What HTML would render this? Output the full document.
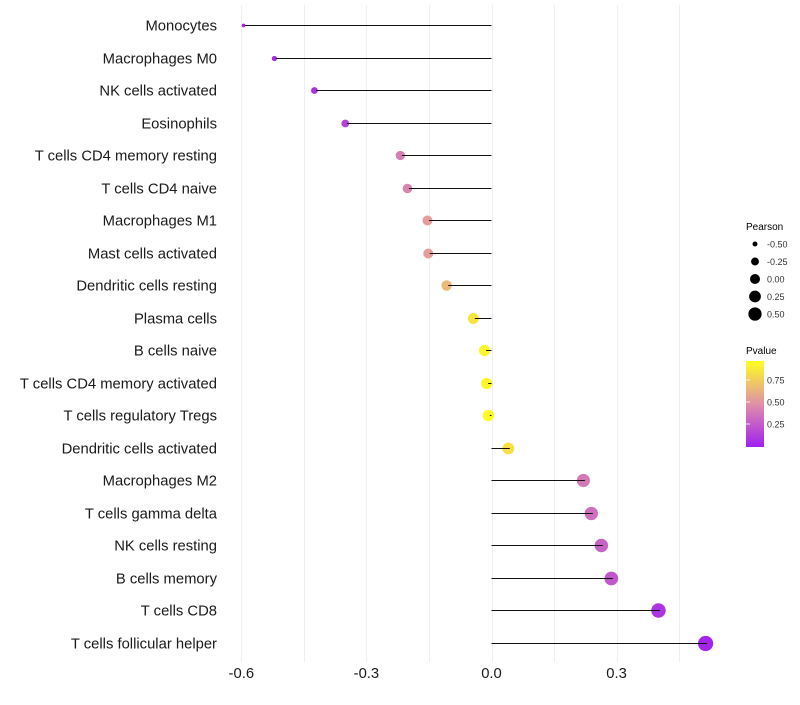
<!DOCTYPE html>
<html><head><meta charset="utf-8"><style>
body{margin:0;background:#fff;font-family:"Liberation Sans",sans-serif;}
svg text{font-family:"Liberation Sans",sans-serif;}
</style></head><body>
<svg id="chart" width="800" height="700" xmlns="http://www.w3.org/2000/svg">
<g id="grid"></g><g id="ylabels"></g><g id="marks"></g><g id="xlabels"></g>
<g id="legend">
<text x="746" y="230" font-size="10">Pearson</text>
<g id="sizeleg"></g>
<text x="746" y="354" font-size="10">Pvalue</text>
<defs><linearGradient id="pg" x1="0" y1="1" x2="0" y2="0">
<stop offset="0" stop-color="#A020F0"/><stop offset="0.5" stop-color="#E090A8"/><stop offset="1" stop-color="#FFFF20"/></linearGradient></defs>
<rect x="746" y="361" width="18" height="86" fill="url(#pg)"/>
<g id="colleg"></g>
</g>
</svg>
<script>
const cells=["Monocytes","Macrophages M0","NK cells activated","Eosinophils","T cells CD4 memory resting","T cells CD4 naive","Macrophages M1","Mast cells activated","Dendritic cells resting","Plasma cells","B cells naive","T cells CD4 memory activated","T cells regulatory  Tregs ","Dendritic cells activated","Macrophages M2","T cells gamma delta","NK cells resting","B cells memory","T cells CD8","T cells follicular helper"];
const pearson=[-0.591,-0.517,-0.421,-0.347,-0.215,-0.198,-0.150,-0.148,-0.104,-0.040,-0.013,-0.008,-0.004,0.044,0.224,0.243,0.267,0.291,0.404,0.517];
const pvalue=[0.02,0.05,0.08,0.15,0.42,0.45,0.56,0.56,0.68,0.88,0.95,0.96,0.99,0.86,0.40,0.35,0.30,0.25,0.09,0.02];
const xticks=[-0.6,-0.3,0.0,0.3];
const xtickLabels=["-0.6","-0.3","0.0","0.3"];
const sizeLegVals=[-0.5,-0.25,0,0.25,0.5];
const sizeLegLabels=["-0.50","-0.25","0.00","0.25","0.50"];
const colLegVals=[0.25,0.5,0.75];
const colLegLabels=["0.25","0.50","0.75"];

const NS="http://www.w3.org/2000/svg";
const X=v=>491.5+v*417;
const Y=i=>Math.round(25+i*32.5)+0.5;
const R=v=>7*Math.sqrt(Math.max(0.02,v+0.66));
function hex(c){return [parseInt(c.slice(1,3),16),parseInt(c.slice(3,5),16),parseInt(c.slice(5,7),16)];}
const stops=[hex("#A020F0"),hex("#E090A8"),hex("#FFFF20")];
function col(p){let t=Math.max(0,Math.min(1,p));let a,b,f;if(t<0.5){a=stops[0];b=stops[1];f=t/0.5;}else{a=stops[1];b=stops[2];f=(t-0.5)/0.5;}
return "rgb("+a.map((x,k)=>Math.round(x+(b[k]-x)*f)).join(",")+")";}
function mk(tag,attrs,parent){const e=document.createElementNS(NS,tag);for(const k in attrs)e.setAttribute(k,attrs[k]);document.getElementById(parent).appendChild(e);return e;}
for(let v=-0.6;v<=0.46;v+=0.15){
 const g=mk("line",{x1:Math.round(X(v))+0.5,x2:Math.round(X(v))+0.5,y1:5,y2:662,stroke:"#efefef","stroke-width":1},"grid");
 
 
}
cells.forEach((c,i)=>{
 const t=mk("text",{x:217,y:Y(i)+5,"text-anchor":"end","font-size":14.8,fill:"#1a1a1a"},"ylabels");t.textContent=c;
 
 
 const p=mk("circle",{cx:X(pearson[i])-1.5,cy:Y(i),r:R(pearson[i]),fill:col(pvalue[i])},"marks");
 
 
 const l=mk("line",{x1:X(0),x2:X(pearson[i]),y1:Y(i),y2:Y(i),stroke:"#111","stroke-width":1},"marks");
 
 
});
xticks.forEach((v,i)=>{
 const t=mk("text",{x:X(v),y:678,"text-anchor":"middle","font-size":14.8,fill:"#1a1a1a"},"xlabels");t.textContent=xtickLabels[i];
 
 
});
sizeLegVals.forEach((v,i)=>{
 const y=244+i*17.5;
 const c=mk("circle",{cx:755,cy:y,r:R(v)*0.88,fill:"#000"},"sizeleg");
 
 
 const t=mk("text",{x:767,y:y+3.5,"font-size":9,fill:"#333"},"sizeleg");t.textContent=sizeLegLabels[i];
 
 
});
colLegVals.forEach((v,i)=>{
 const y=446-v*88;
 const t=mk("text",{x:767,y:y+3.5,"font-size":9,fill:"#333"},"colleg");t.textContent=colLegLabels[i];
 
 
 const k=mk("line",{x1:746,x2:750,y1:y,y2:y,stroke:"#fff","stroke-width":0.8},"colleg");
 
 
});
</script>
</body></html>
